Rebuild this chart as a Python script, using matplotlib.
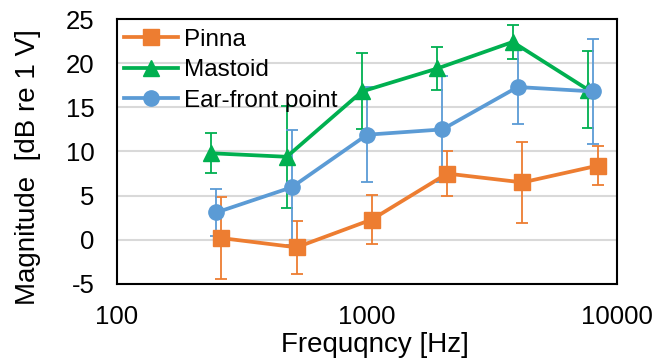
import matplotlib
matplotlib.use("Agg")
import matplotlib.pyplot as plt

plt.rcParams['font.family'] = ['Liberation Sans', 'DejaVu Sans']
plt.rcParams['axes.unicode_minus'] = False

# frecuencias nominales de medicion
freqs = [250, 500, 1000, 2000, 4000, 8000]

pinna = [0.2, -0.85, 2.3, 7.5, 6.5, 8.4]
pinna_err = [4.6, 3.0, 2.8, 2.55, 4.55, 2.2]

mastoid = [9.8, 9.4, 16.8, 19.4, 22.4, 17.0]
mastoid_err = [2.25, 5.8, 4.3, 2.4, 1.95, 4.35]

ear_front = [3.1, 5.95, 11.9, 12.5, 17.3, 16.8]
ear_front_err = [2.7, 6.5, 5.4, 6.0, 4.2, 5.95]

y_ticks = [-5, 0, 5, 10, 15, 20, 25]
x_ticks = [100, 1000, 10000]

fig = plt.figure(figsize=(6.68, 3.62), dpi=100)
ax = fig.add_axes([0.175, 0.2155, 0.749, 0.732])

series = [
    ("Pinna", pinna, pinna_err, '#ED7D31', 's', 1.045),
    ("Mastoid", mastoid, mastoid_err, '#00B050', '^', 0.955),
    ("Ear-front point", ear_front, ear_front_err, '#5B9BD5', 'o', 1.0),
]

handles = []
for nombre, vals, err, color, marker, shift in series:
    xs = [f * shift for f in freqs]
    cont = ax.errorbar(xs, vals, yerr=err, color=color, marker=marker,
                       markersize=11, linewidth=2.7, elinewidth=1.3,
                       capsize=4, capthick=1.3, label=nombre)
    handles.append(cont[0])

ax.set_xscale('log')
ax.set_xlim(100, 10000)
ax.set_ylim(-5, 25)
ax.set_xticks(x_ticks)
ax.set_xticklabels([str(t) for t in x_ticks])
ax.minorticks_off()
ax.set_yticks(y_ticks)
ax.tick_params(axis='both', length=0, labelsize=18.5)
ax.tick_params(axis='x', pad=15)
ax.tick_params(axis='y', pad=16)

ax.grid(True, axis='y', color='#D9D9D9', linewidth=1.5)
ax.set_axisbelow(True)
for s in ax.spines.values():
    s.set_linewidth(1.5)
    s.set_color('black')

ax.set_xlabel("Frequqncy [Hz]", fontsize=20)
ax.xaxis.set_label_coords(0.515, -0.18)
ax.set_ylabel("Magnitude  [dB re 1 V]", fontsize=20)
ax.yaxis.set_label_coords(-0.152, 0.44)

ax.legend(handles, [s[0] for s in series], loc='upper left', frameon=False,
          fontsize=17.5, handlelength=2.2, handletextpad=0.25,
          labelspacing=0.35, borderaxespad=0.0,
          bbox_to_anchor=(-0.005, 1.0))

fig.savefig("out.png", dpi=100)
